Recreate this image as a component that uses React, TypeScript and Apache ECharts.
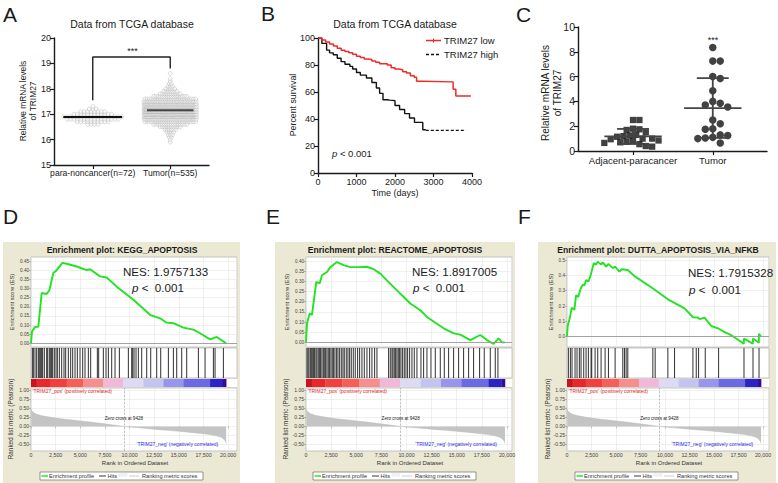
import React, { useEffect, useRef } from 'react';
import * as echarts from 'echarts';

const FONT = 'Arial, "Liberation Sans", Helvetica, sans-serif';

// ---------- Panel A ----------
const aCategories = ['para-noncancer(n=72)', 'Tumor(n=535)'];
const aBins = [15.9, 16.0, 16.1, 16.2, 16.3, 16.4, 16.5, 16.6, 16.7, 16.8, 16.9, 17.0, 17.1, 17.2, 17.3, 17.4, 17.5, 17.6, 17.7, 17.8, 17.9, 18.0, 18.1, 18.2, 18.3, 18.4, 18.5, 18.6];
const aParaCounts = [0, 0, 0, 0, 0, 0, 0, 4, 10, 16, 18, 12, 8, 3, 1, 0, 0, 0, 0, 0, 0, 0, 0, 0, 0, 0, 0, 0];
const aTumorCounts = [1, 1, 2, 3, 4, 6, 10, 16, 24, 36, 48, 58, 64, 60, 54, 44, 34, 24, 16, 10, 7, 5, 3, 2, 1, 1, 0, 1];

// ---------- Panel B ----------
const bSeriesNames = ['TRIM27 low', 'TRIM27 high'];
const bLowDays = [0, 100, 200, 300, 400, 500, 600, 700, 800, 900, 1000, 1100, 1200, 1300, 1400, 1500, 1600, 1700, 1800, 1900, 2000, 2100, 2200, 2300, 2400, 2500, 2560, 2700, 3510, 3580, 3970];
const bLowSurvival = [100, 98.5, 97, 95.5, 94, 92.5, 91, 90, 89, 88, 86.5, 85.5, 84.5, 84, 83, 82, 81, 81, 80, 78, 77, 76.5, 75, 74, 72, 71, 68, 67.5, 62, 57, 57];
const bHighDays = [0, 100, 224, 300, 396, 500, 600, 700, 827, 900, 1000, 1100, 1258, 1400, 1516, 1600, 1688, 1800, 1860, 2000, 2119, 2250, 2377, 2506, 2722, 2800, 3842];
const bHighSurvival = [100, 96, 91, 89, 87.6, 85, 82.5, 80.5, 79, 77, 74.5, 72.5, 70.4, 67, 63, 59, 54.3, 54, 53.6, 50, 47, 44, 40.7, 37.5, 32, 31.6, 31.6];
const bHighCensoredFrom = 2800; // after this day only censored observations remain

// ---------- Panel C ----------
const cCategories = ['Adjacent-paracancer', 'Tumor'];
const cAdjacent = [2.5, 2.5, 1.8, 1.75, 1.7, 1.5, 1.3, 1.25, 1.2, 1.15, 1.0, 1.0, 0.95, 0.85, 0.8, 0.75, 0.7, 0.65, 0.55, 0.4, 0.35];
const cTumor = [8.35, 7.25, 7.25, 6.0, 5.85, 4.85, 4.0, 3.85, 3.7, 3.55, 2.5, 2.2, 1.8, 1.75, 1.3, 1.25, 1.1, 1.05, 1.0, 0.65];

// ---------- GSEA (shared ranked list) ----------
const rankedRank = [0, 50, 200, 500, 1000, 2000, 3000, 4000, 5000, 6000, 7000, 8000, 9428, 10000, 11000, 12000, 13000, 14000, 15000, 16000, 17000, 18000, 18800, 19300, 19600, 19750, 19800];
const rankedMetric = [0.48, 0.44, 0.4, 0.34, 0.3, 0.25, 0.21, 0.18, 0.15, 0.12, 0.085, 0.05, 0, -0.015, -0.04, -0.065, -0.09, -0.11, -0.135, -0.16, -0.19, -0.22, -0.26, -0.3, -0.36, -0.42, -0.47];
const zeroCross = 9428;
const colorBandEdges = [0, 575, 1928, 3620, 5311, 7341, 9371, 11401, 13431, 15460, 18167, 19452, 19800];

const keggRank = [0, 100, 406, 744, 1083, 1590, 1861, 2267, 2605, 3180, 3620, 4635, 5650, 5989, 7004, 7680, 8696, 10387, 12079, 13094, 13770, 14447, 15462, 16477, 17154, 18169, 18846, 19800];
const keggES = [0, 0.064, 0.09, 0.09, 0.275, 0.27, 0.29, 0.385, 0.4, 0.44, 0.435, 0.42, 0.4, 0.405, 0.366, 0.36, 0.31, 0.238, 0.156, 0.137, 0.113, 0.11, 0.086, 0.075, 0.055, 0.022, 0.035, 0];
const keggHits = [135, 237, 406, 575, 744, 846, 981, 1083, 1184, 1353, 1590, 1692, 1861, 1996, 2097, 2199, 2368, 2537, 2673, 2876, 3112, 3349, 3518, 3789, 4026, 4229, 4466, 4702, 4973, 5244, 5480, 5819, 6055, 6732, 6867, 7341, 7612, 7849, 8187, 8525, 8965, 9878, 10217, 10318, 10453, 10656, 10893, 11231, 11739, 12145, 12754, 13160, 13938, 14445, 14783, 15291, 15798, 16982, 17659, 18505, 18674, 19520];

const reactRank = [0, 96, 361, 594, 826, 1025, 1356, 1589, 2087, 2418, 3081, 3744, 4408, 5403, 6066, 6729, 7393, 8719, 10378, 11373, 12037, 13694, 14689, 15353, 16348, 17343, 18006, 18669, 19167, 19499, 19800];
const reactES = [0, 0.093, 0.142, 0.135, 0.223, 0.297, 0.29, 0.33, 0.346, 0.37, 0.395, 0.38, 0.37, 0.37, 0.372, 0.36, 0.338, 0.272, 0.191, 0.158, 0.125, 0.069, 0.044, 0.038, 0.011, 0.036, 0.011, -0.008, 0.02, 0.0, 0.0];
const reactHits = [96, 196, 295, 428, 527, 627, 759, 859, 991, 1091, 1223, 1356, 1456, 1588, 1721, 1820, 1953, 2086, 2218, 2351, 2484, 2616, 2749, 2882, 3047, 3180, 3346, 3511, 3677, 3810, 4009, 4175, 4341, 4507, 4706, 4905, 5137, 5336, 5568, 5800, 6066, 6331, 6563, 6829, 7061, 8222, 8388, 8554, 8653, 8786, 8918, 9051, 9184, 9316, 9449, 9615, 9781, 9947, 10113, 10312, 10544, 10776, 11041, 11439, 11705, 12037, 12435, 12866, 13363, 13761, 14192, 14689, 15187, 15684, 16182, 16679, 17276, 17740, 18338, 18835, 19100];

const duttaRank = [0, 72, 310, 480, 753, 923, 1162, 1366, 1604, 1775, 1945, 2184, 2388, 2729, 2967, 3137, 3478, 3649, 3989, 4228, 4671, 4909, 5352, 5590, 6204, 6885, 8588, 10292, 11995, 12847, 13358, 13528, 14039, 14720, 15402, 16083, 16764, 17446, 18040, 18060, 18960, 18980, 19570, 19590, 19800];
const duttaES = [0, 0.07, 0.13, 0.19, 0.175, 0.27, 0.26, 0.31, 0.34, 0.335, 0.37, 0.36, 0.395, 0.48, 0.47, 0.49, 0.47, 0.485, 0.457, 0.475, 0.447, 0.457, 0.425, 0.44, 0.435, 0.395, 0.323, 0.244, 0.185, 0.127, 0.125, 0.115, 0.125, 0.07, 0.055, 0.03, 0.01, -0.02, -0.045, -0.012, -0.045, -0.012, -0.04, 0.02, 0.0];
const duttaHits = [140, 344, 514, 821, 1025, 1264, 1434, 1707, 1945, 2184, 2456, 2524, 2865, 3137, 3478, 3887, 4228, 4909, 5693, 5863, 6033, 6204, 8759, 8997, 10292, 10973, 12847, 13187, 13426, 14107, 15470, 18059, 18979, 19592];

// ---------- helpers ----------
const BAND_COLORS = ['#c8141e', '#e8262c', '#f2403f', '#f65e5a', '#f78e8e', '#f2b8da', '#dcdaf6', '#c4c4f2', '#9696ec', '#6a6ae2', '#2c22c8', '#3a0a96'];

function swarmRows(values: number[], counts: number[], center: number, pxPerUnit: number, stepPx: number, maxPx: number) {
  const out: number[][] = [];
  values.forEach((v, i) => {
    const n = counts[i];
    if (!n) return;
    const w = Math.min((n - 1) * stepPx, maxPx);
    const sp = n > 1 ? w / (n - 1) : 0;
    for (let k = 0; k < n; k++) out.push([center + ((k - (n - 1) / 2) * sp) / pxPerUnit, v]);
  });
  return out;
}

function beeswarm(values: number[], center: number, pxX: number, pxY: number, diam: number) {
  const sorted = [...values].sort((a, b) => b - a);
  const placed: { x: number; y: number }[] = [];
  const step = diam / 2;
  return sorted.map((v) => {
    const y = v * pxY;
    let k = 0;
    let x = 0;
    for (;;) {
      const m = Math.ceil(k / 2) * (k % 2 === 1 ? 1 : -1);
      x = m * step;
      if (placed.every((p) => (p.x - x) ** 2 + (p.y - y) ** 2 >= diam * diam)) break;
      k++;
    }
    placed.push({ x, y });
    return [center + x / pxX, v];
  });
}

const weightedMean = (vals: number[], counts: number[]) => {
  let s = 0, n = 0;
  vals.forEach((v, i) => { s += v * counts[i]; n += counts[i]; });
  return s / n;
};
const mean = (a: number[]) => a.reduce((s, v) => s + v, 0) / a.length;
const sd = (a: number[]) => { const m = mean(a); return Math.sqrt(a.reduce((s, v) => s + (v - m) ** 2, 0) / (a.length - 1)); };
const zip = (a: number[], b: number[]) => a.map((v, i) => [v, b[i]]);

function text(x: number, y: number, str: string, o: any = {}) {
  const { rotation, ...style } = o;
  const align = style.align || 'left';
  const valign = style.verticalAlign || 'middle';
  return {
    type: 'text', x, y, z: 100, silent: true, rotation: rotation || 0,
    style: { text: str, fontFamily: FONT, fontSize: 10, fill: '#1a1a1a', ...style, align, textAlign: align, verticalAlign: valign, textVerticalAlign: valign },
  };
}
const gline = (x1: number, y1: number, x2: number, y2: number, stroke: string, lineWidth: number, extra: any = {}) => ({
  type: 'line', z: 95, silent: true, shape: { x1, y1, x2, y2 }, style: { stroke, lineWidth, ...extra },
});

function buildOption() {
  const grid: any[] = [];
  const xAxis: any[] = [];
  const yAxis: any[] = [];
  const series: any[] = [];
  const els: any[] = [];
  const add = (g: any, x: any, y: any) => {
    const i = grid.length;
    grid.push(g);
    xAxis.push({ ...x, gridIndex: i });
    yAxis.push({ ...y, gridIndex: i });
    return i;
  };
  const seg = (gi: number, pts: number[][], color: string, width: number) => {
    series.push({ type: 'line', xAxisIndex: gi, yAxisIndex: gi, data: pts, symbol: 'none', silent: true, lineStyle: { color, width }, z: 5 });
  };
  const axLine = { show: true, lineStyle: { color: '#1a1a1a', width: 1.4 } };
  const axTick = { show: true, length: 4, lineStyle: { color: '#1a1a1a', width: 1.2 } };

  // ----- A -----
  const iA = add(
    { left: 54, top: 38, width: 155, height: 127 },
    { type: 'value', min: 0.5, max: 2.5, axisLine: axLine, axisTick: { ...axTick, customValues: [1, 2] }, splitLine: { show: false },
      axisLabel: { customValues: [1, 2], formatter: (v: number) => aCategories[Math.round(v) - 1], fontSize: 8.6, color: '#1a1a1a', fontFamily: FONT, margin: 3 } },
    { type: 'value', min: 15, max: 20, interval: 1, axisLine: axLine, axisTick: axTick, splitLine: { show: false },
      axisLabel: { fontSize: 9, color: '#1a1a1a', fontFamily: FONT, margin: 3 } }
  );
  const hollow = { color: 'rgba(255,255,255,0.6)', borderColor: '#a6a6a6', borderWidth: 0.5 };
  series.push({ type: 'scatter', xAxisIndex: iA, yAxisIndex: iA, data: swarmRows(aBins, aParaCounts, 1, 77, 3.4, 58), symbol: 'circle', symbolSize: 3.8, itemStyle: hollow, silent: true });
  series.push({ type: 'scatter', xAxisIndex: iA, yAxisIndex: iA, data: swarmRows(aBins, aTumorCounts, 2, 77, 2.2, 52), symbol: 'circle', symbolSize: 3.8, itemStyle: hollow, silent: true });
  const mPara = weightedMean(aBins, aParaCounts);
  const mTum = weightedMean(aBins, aTumorCounts);
  seg(iA, [[0.62, mPara], [1.38, mPara]], '#111', 2.2);
  seg(iA, [[1.7, mTum], [2.3, mTum]], '#444', 2);
  seg(iA, [[1, 17.55], [1, 19.25], [2, 19.25], [2, 18.8]], '#222', 1.4);
  els.push(text(3, 14, 'A', { fontSize: 21 }));
  els.push(text(132, 24, 'Data from TCGA database', { fontSize: 10.5, align: 'center' }));
  els.push(text(132.5, 51, '***', { fontSize: 9, align: 'center' }));
  els.push(text(28, 101, 'Relative mRNA levels\nof TRIM27', { fontSize: 8.4, align: 'center', rotation: Math.PI / 2, lineHeight: 10 }));

  // ----- B -----
  const iB = add(
    { left: 318, top: 38, width: 154, height: 135 },
    { type: 'value', min: 0, max: 4000, interval: 1000, axisLine: axLine, axisTick: axTick, splitLine: { show: false },
      axisLabel: { formatter: (v: number) => String(v), fontSize: 9, color: '#1a1a1a', fontFamily: FONT, margin: 4 } },
    { type: 'value', min: 0, max: 100, interval: 20, axisLine: axLine, axisTick: axTick, splitLine: { show: false },
      axisLabel: { fontSize: 9, color: '#1a1a1a', fontFamily: FONT, margin: 3 } }
  );
  const lowColor = '#ee2a2a';
  series.push({ name: bSeriesNames[0], type: 'line', step: 'end', xAxisIndex: iB, yAxisIndex: iB, data: zip(bLowDays, bLowSurvival), symbol: 'none', silent: true, lineStyle: { color: lowColor, width: 1.5 }, z: 4 });
  const highPts = zip(bHighDays, bHighSurvival);
  const cut = highPts.findIndex((p) => p[0] >= bHighCensoredFrom);
  series.push({ name: bSeriesNames[1], type: 'line', step: 'end', xAxisIndex: iB, yAxisIndex: iB, data: highPts.slice(0, cut + 1), symbol: 'none', silent: true, lineStyle: { color: '#111', width: 1.4 }, z: 3 });
  series.push({ type: 'line', step: 'end', xAxisIndex: iB, yAxisIndex: iB, data: highPts.slice(cut), symbol: 'none', silent: true, lineStyle: { color: '#111', width: 1.3, type: [3, 2] }, z: 3 });
  els.push(text(261, 13, 'B', { fontSize: 21 }));
  els.push(text(395, 24, 'Data from TCGA database', { fontSize: 10.5, align: 'center' }));
  els.push(text(293, 105, 'Percent survival', { fontSize: 8.8, align: 'center', rotation: Math.PI / 2 }));
  els.push(text(395, 193, 'Time (days)', { fontSize: 9, align: 'center' }));
  els.push(text(332, 153, '{i|p} < 0.001', { fontSize: 9.5, rich: { i: { fontStyle: 'italic', fontSize: 9.5, fontFamily: FONT } } }));
  // legend of B
  els.push(gline(426, 40.5, 441, 40.5, lowColor, 1.5));
  els.push(gline(433.5, 38.5, 433.5, 42.5, lowColor, 1));
  els.push(text(444, 40.5, bSeriesNames[0], { fontSize: 9.5 }));
  els.push(gline(426, 54.5, 441, 54.5, '#111', 1.3, { lineDash: [3, 2] }));
  els.push(text(444, 54.5, bSeriesNames[1], { fontSize: 9.5 }));

  // ----- C -----
  const iC = add(
    { left: 578, top: 27, width: 189, height: 124 },
    { type: 'value', min: 0.31, max: 2.68, axisLine: axLine, axisTick: { ...axTick, customValues: [1, 2] }, splitLine: { show: false },
      axisLabel: { customValues: [1, 2], formatter: (v: number) => cCategories[Math.round(v) - 1], fontSize: 9.6, color: '#1a1a1a', fontFamily: FONT, margin: 4 } },
    { type: 'value', min: 0, max: 10, interval: 2, axisLine: axLine, axisTick: axTick, splitLine: { show: false },
      axisLabel: { fontSize: 10.5, color: '#1a1a1a', fontFamily: FONT, margin: 3 } }
  );
  series.push({ type: 'scatter', xAxisIndex: iC, yAxisIndex: iC, data: beeswarm(cAdjacent, 1, 80, 12.4, 6.4), symbol: 'rect', symbolSize: 6.3, itemStyle: { color: '#111' }, silent: true, z: 3 });
  series.push({ type: 'scatter', xAxisIndex: iC, yAxisIndex: iC, data: beeswarm(cTumor, 2, 80, 12.4, 7.5), symbol: 'circle', symbolSize: 7.5, itemStyle: { color: '#111' }, silent: true, z: 3 });
  [cAdjacent, cTumor].forEach((g, i) => {
    const c = i + 1, m = mean(g), s = sd(g);
    seg(iC, [[c - 0.36, m], [c + 0.36, m]], '#444', 1.8);
    seg(iC, [[c, Math.max(m - s, 0)], [c, m + s]], '#444', 1.8);
    seg(iC, [[c - 0.2, m + s], [c + 0.2, m + s]], '#444', 1.8);
    seg(iC, [[c - 0.2, Math.max(m - s, 0)], [c + 0.2, Math.max(m - s, 0)]], '#444', 1.8);
  });
  els.push(text(516, 14, 'C', { fontSize: 21 }));
  els.push(text(713, 40, '***', { fontSize: 9, align: 'center' }));
  els.push(text(551, 93, 'Relative mRNA levels\nof TRIM27', { fontSize: 10, align: 'center', rotation: Math.PI / 2, lineHeight: 12 }));

  // ----- GSEA panels -----
  const hitRender = (_p: any, api: any) => {
    const x = api.value(0);
    const a = api.coord([x, 1]);
    const b = api.coord([x, 0]);
    return { type: 'line', shape: { x1: a[0], y1: a[1], x2: b[0], y2: b[1] }, style: { stroke: '#1a1a1a', lineWidth: 0.9 } };
  };
  const bandRender = (_p: any, api: any) => {
    const a = api.coord([api.value(0), 1]);
    const b = api.coord([api.value(1), 0]);
    return { type: 'rect', shape: { x: a[0], y: a[1], width: b[0] - a[0] + 0.3, height: b[1] - a[1] }, style: { fill: BAND_COLORS[api.value(2)] } };
  };
  const bands = colorBandEdges.slice(0, -1).map((s, i) => [s, colorBandEdges[i + 1], i]);
  const rankedTicks = [-0.5, -0.25, 0, 0.25, 0.5, 0.75, 1];
  const gridStyle = { show: true, backgroundColor: '#fff', borderColor: '#b0b0b0', borderWidth: 0.7 };
  const faint = { show: true, lineStyle: { color: '#e6e6e6', width: 0.6 } };

  const addGsea = (c: any) => {
    els.push({ type: 'rect', z: -100, silent: true, shape: { x: c.boxX, y: 242, width: c.boxW, height: 241 }, style: { fill: '#ebe8d4' } });
    const xBase = { type: 'value', min: 0, max: c.xMax, interval: 2500 };
    const iES = add(
      { ...gridStyle, left: c.left, top: 257, width: c.width, height: 90 },
      { ...xBase, axisLine: { show: false }, axisTick: { show: false }, axisLabel: { show: false }, splitLine: faint },
      { type: 'value', min: c.esMin, max: c.esMax, axisLine: { show: false },
        axisTick: { show: true, customValues: c.esTicks, length: 2, lineStyle: { color: '#888', width: 0.5 } },
        axisLabel: { customValues: c.esTicks, formatter: (v: number) => v.toFixed(c.esDigits), fontSize: 4.6, color: '#444', fontFamily: FONT, margin: 2 },
        splitLine: faint }
    );
    series.push({ type: 'line', xAxisIndex: iES, yAxisIndex: iES, data: zip(c.rank, c.es), symbol: 'none', silent: true, lineStyle: { color: '#22e322', width: 1.9 }, z: 4,
      markLine: { silent: true, symbol: 'none', label: { show: false }, lineStyle: { color: '#9a9a9a', width: 0.9, type: 'solid' }, data: [{ yAxis: 0 }] } });
    const iH = add(
      { ...gridStyle, left: c.left, top: 348, width: c.width, height: 30 },
      { ...xBase, show: false }, { type: 'value', min: 0, max: 1, show: false }
    );
    series.push({ type: 'custom', xAxisIndex: iH, yAxisIndex: iH, silent: true, data: c.hits.map((h: number) => [h, 0.5]), renderItem: hitRender });
    const iBar = add(
      { show: true, backgroundColor: '#fff', borderWidth: 0, left: c.left, top: 379, width: c.width, height: 8 },
      { ...xBase, show: false }, { type: 'value', min: 0, max: 1, show: false }
    );
    series.push({ type: 'custom', xAxisIndex: iBar, yAxisIndex: iBar, silent: true, data: bands, renderItem: bandRender });
    const iR = add(
      { ...gridStyle, left: c.left, top: 388, width: c.width, height: 63 },
      { ...xBase, axisLine: { show: false }, axisTick: { show: true, length: 2, lineStyle: { color: '#888', width: 0.5 } },
        axisLabel: { formatter: (v: number) => v.toLocaleString('en-US'), fontSize: 5.3, color: '#444', fontFamily: FONT, margin: 1.5 }, splitLine: faint },
      { type: 'value', min: -0.68, max: 1.06, axisLine: { show: false },
        axisTick: { show: true, customValues: rankedTicks, length: 2, lineStyle: { color: '#888', width: 0.5 } },
        axisLabel: { customValues: rankedTicks, formatter: (v: number) => v.toFixed(2), fontSize: 5, color: '#444', fontFamily: FONT, margin: 2 },
        splitLine: faint }
    );
    series.push({ type: 'line', xAxisIndex: iR, yAxisIndex: iR, data: zip(rankedRank, rankedMetric), symbol: 'none', silent: true,
      lineStyle: { color: '#b8b8b8', width: 0.5 }, areaStyle: { color: '#c4c4c4', opacity: 1 }, z: 3,
      markLine: { silent: true, symbol: 'none', label: { show: false }, lineStyle: { color: '#999', width: 0.6, type: 'dashed' }, data: [{ xAxis: zeroCross }] } });

    const px = (r: number) => c.left + (r / c.xMax) * c.width;
    els.push(text(c.letterX, 216, c.letter, { fontSize: 21 }));
    els.push(text(c.left + c.titleDX, 249.5, c.title, { fontSize: 8.6, fontWeight: 'bold', align: 'center' }));
    els.push(text(c.nesX, c.nesY, c.nes, { fontSize: 11.6 }));
    els.push(text(c.pX, c.pY, '{i|p} <  0.001', { fontSize: 11.6, rich: { i: { fontStyle: 'italic', fontSize: 11.6, fontFamily: FONT } } }));
    els.push(text(c.esNameX, 302, 'Enrichment score (ES)', { fontSize: 5.6, align: 'center', rotation: Math.PI / 2, fill: '#333' }));
    els.push(text(c.rankNameX, 419, 'Ranked list metric (Pearson)', { fontSize: 6.4, align: 'center', rotation: Math.PI / 2, fill: '#333' }));
    els.push(text(c.left + 1.5, 390.5, "'TRIM27_pos' (positively correlated)", { fontSize: 5, fill: '#e02a2a' }));
    els.push(text(px(19000), 444, "'TRIM27_neg' (negatively correlated)", { fontSize: 5, fill: '#2a2ae0', align: 'right' }));
    els.push(text(px(zeroCross), 418, 'Zero cross at 9428', { fontSize: 4.6, align: 'center', fill: '#222' }));
    els.push(text(c.left + c.width / 2 + 1, 462.5, 'Rank in Ordered Dataset', { fontSize: 6, align: 'center', fill: '#333' }));
    // legend box
    const lx = c.legendX, ly = 472;
    els.push({ type: 'rect', z: 90, silent: true, shape: { x: lx, y: ly, width: 163, height: 8 }, style: { fill: '#fff', stroke: '#555', lineWidth: 0.6 } });
    els.push(gline(lx + 1.5, ly + 4, lx + 8, ly + 4, '#22e322', 1.4));
    els.push(text(lx + 9, ly + 4.2, 'Enrichment profile', { fontSize: 5.6, fill: '#333' }));
    els.push(gline(lx + 59, ly + 4, lx + 66, ly + 4, '#222', 0.9));
    els.push(text(lx + 67.5, ly + 4.2, 'Hits', { fontSize: 5.6, fill: '#333' }));
    els.push({ type: 'rect', z: 95, silent: true, shape: { x: lx + 79, y: ly + 1.8, width: 8, height: 2.4 }, style: { fill: '#f4f4f4', stroke: '#ddd', lineWidth: 0.4 } });
    els.push(gline(lx + 89, ly + 4, lx + 99, ly + 4, '#c8c8c8', 0.9));
    els.push(text(lx + 102, ly + 4.2, 'Ranking metric scores', { fontSize: 5.6, fill: '#333' }));
  };

  addGsea({ letter: 'D', letterX: 3, boxX: 3, boxW: 237, left: 31, width: 206, xMax: 20900, esMin: -0.02, esMax: 0.472,
    esTicks: [0, 0.05, 0.1, 0.15, 0.2, 0.25, 0.3, 0.35, 0.4, 0.45], esDigits: 2, rank: keggRank, es: keggES, hits: keggHits,
    title: 'Enrichment plot: KEGG_APOPTOSIS', titleDX: 91, nes: 'NES: 1.9757133', nesX: 123, nesY: 271, pX: 132, pY: 287.5,
    esNameX: 12, rankNameX: 10, legendX: 40 });
  addGsea({ letter: 'E', letterX: 266, boxX: 275, boxW: 240, left: 306, width: 206, xMax: 20500, esMin: -0.023, esMax: 0.42,
    esTicks: [0, 0.05, 0.1, 0.15, 0.2, 0.25, 0.3, 0.35, 0.4], esDigits: 2, rank: reactRank, es: reactES, hits: reactHits,
    title: 'Enrichment plot: REACTOME_APOPTOSIS', titleDX: 89, nes: 'NES: 1.8917005', nesX: 412, nesY: 271, pX: 413, pY: 287,
    esNameX: 287, rankNameX: 285, legendX: 313 });
  addGsea({ letter: 'F', letterX: 518, boxX: 538, boxW: 238, left: 567, width: 202, xMax: 20610, esMin: -0.067, esMax: 0.52,
    esTicks: [0, 0.1, 0.2, 0.3, 0.4, 0.5], esDigits: 1, rank: duttaRank, es: duttaES, hits: duttaHits,
    title: 'Enrichment plot: DUTTA_APOPTOSIS_VIA_NFKB', titleDX: 91, nes: 'NES: 1.7915328', nesX: 688, nesY: 272.5, pX: 689, pY: 289,
    esNameX: 551, rankNameX: 547, legendX: 575 });

  return {
    animation: false,
    backgroundColor: '#ffffff',
    textStyle: { fontFamily: FONT },
    grid, xAxis, yAxis, series,
    graphic: { elements: els },
  };
}

export default function App() {
  const ref = useRef<HTMLDivElement>(null);
  useEffect(() => {
    if (!ref.current) return;
    const chart = echarts.init(ref.current, undefined, { renderer: 'svg' });
    chart.setOption(buildOption() as any);
    return () => chart.dispose();
  }, []);
  return <div ref={ref} style={{ position: 'absolute', left: 0, top: 0, width: 778, height: 483, background: '#fff' }} />;
}
